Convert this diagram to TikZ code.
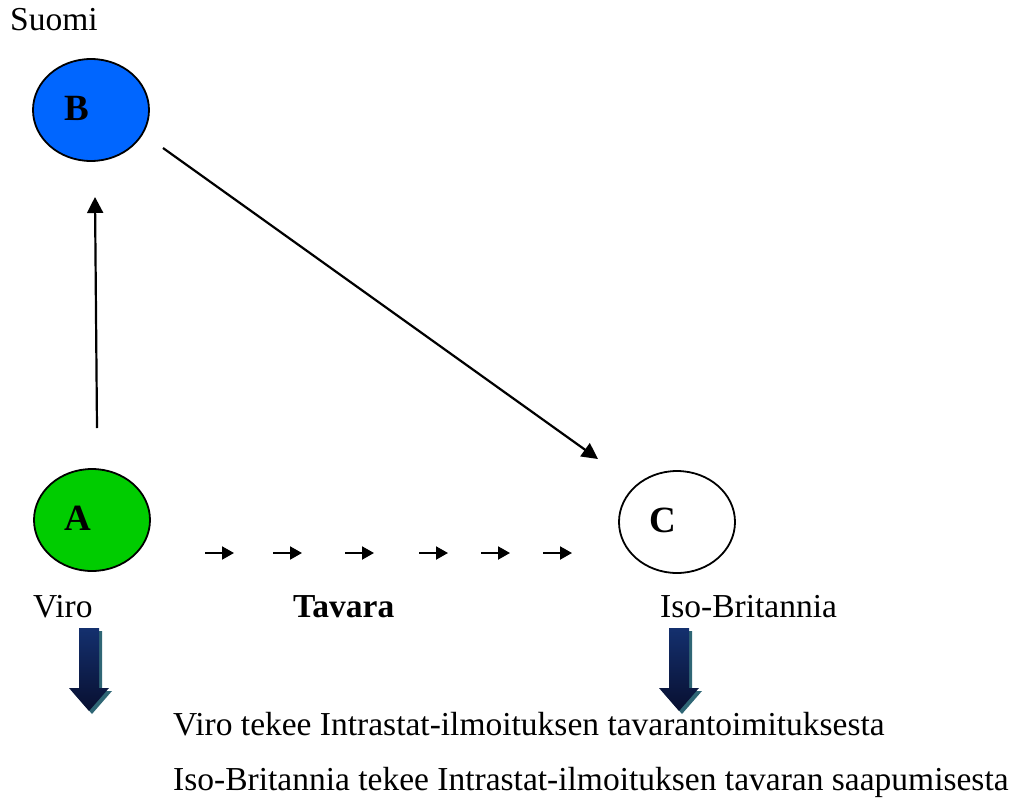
\documentclass[tikz,border=0pt]{standalone}
\usepackage{fontspec}
\setmainfont{Liberation Serif}
\usetikzlibrary{arrows.meta,shapes.geometric}
\definecolor{bblue}{HTML}{0066FF}
\definecolor{agreen}{HTML}{00CC00}
\definecolor{navytop}{HTML}{14306E}
\definecolor{navybot}{HTML}{080F30}
\definecolor{shadowteal}{HTML}{2F6675}
\newcommand{\ctry}[1]{\raisebox{4pt}{\makebox[0pt]{#1\kern28pt}}}
\tikzset{
  country/.style={draw=black, line width=1.8pt, ellipse, minimum width=116pt, minimum height=102pt, inner sep=0pt, font=\fontsize{37}{40}\selectfont\bfseries},
  lbl/.style={anchor=base west, inner sep=0pt, font=\fontsize{33.5}{36}\selectfont},
  link/.style={line width=2.2pt, -{Triangle[length=16pt,width=16pt]}},
  tiny/.style={line width=2pt, -{Triangle[length=12pt,width=13pt]}},
}
\begin{document}
\begin{tikzpicture}[x=1pt,y=-1pt]
\useasboundingbox (0,0) rectangle (1015,803);
\node[country, fill=bblue] (B) at (91,110) {\ctry{B}};
\node[country, fill=agreen] (A) at (92,520) {\ctry{A}};
\node[country, fill=white] (C) at (677,522) {\ctry{C}};
\coordinate (a1) at (97,428);
\coordinate (b1) at (95,197);
\coordinate (b2) at (163,148);
\coordinate (c1) at (598,459);
\draw[link] (a1) -- (b1);
\draw[link] (b2) -- (c1);
\foreach \x/\n in {205/1,273/2,345/3,419/4,481/5,543/6}{
  \coordinate (s\n) at (\x,553);
  \coordinate (e\n) at (\x+29,553);
  \draw[tiny] (s\n) -- (e\n);
}
\node[lbl] (suomi) at (10,30) {Suomi};
\node[lbl] (viro) at (33,617) {Viro};
\node[lbl, font=\fontsize{33.5}{36}\selectfont\bfseries] (tavara) at (293,617) {Tavara};
\node[lbl] (iso) at (660,617) {Iso-Britannia};
\node[lbl] (t1) at (173,735) {Viro tekee Intrastat-ilmoituksen tavarantoimituksesta};
\node[lbl] (t2) at (173,790) {Iso-Britannia tekee Intrastat-ilmoituksen tavaran saapumisesta};
% block arrows
\foreach \cx/\n in {89/1,679/2}{
  \fill[shadowteal] (\cx-10+3,628+3) -- (\cx+10+3,628+3) -- (\cx+10+3,688+3) -- (\cx+20+3,688+3) -- (\cx+3,711+3) -- (\cx-20+3,688+3) -- (\cx-10+3,688+3) -- cycle;
  \shade[top color=navytop, bottom color=navybot] (\cx-10,628) -- (\cx+10,628) -- (\cx+10,688) -- (\cx+20,688) -- (\cx,711) -- (\cx-20,688) -- (\cx-10,688) -- cycle;
}
\end{tikzpicture}
\end{document}
